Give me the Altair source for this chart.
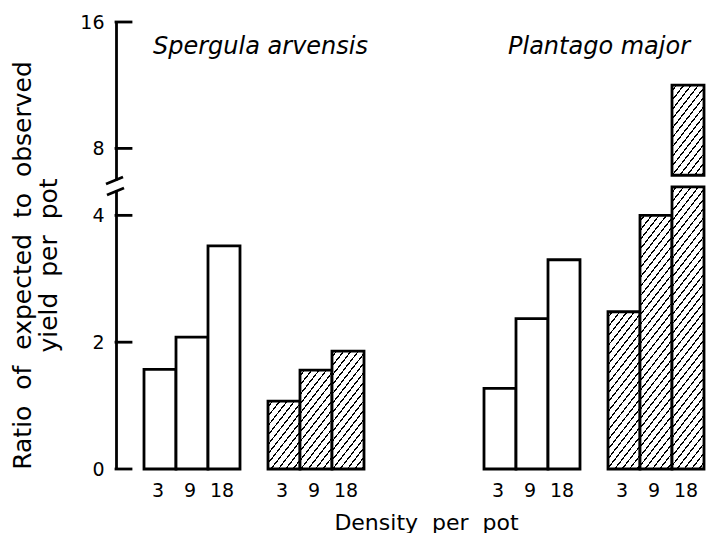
import math
import altair as alt
import pandas as pd

# ---------------- data ----------------
species = ["Spergula arvensis", "Plantago major"]
densities = ["3", "9", "18"]
treatments = ["open", "hatched"]
spergula_open = [1.57, 2.08, 3.52]
spergula_hatched = [1.07, 1.56, 1.86]
plantago_open = [1.27, 2.37, 3.30]
plantago_hatched = [2.48, 4.00, 12.0]
lower_ticks = [0, 2, 4]
upper_ticks = [8, 16]
NB = "\u00a0 "  # wide word gap as in the original typesetting
y_title = [NB.join(["Ratio", "of", "expected", "to", "observed"]),
           NB.join(["yield", "per", "pot"])]
x_title = NB.join(["Density", "per", "pot"])

# ---------------- layout / style ----------------
FONT = "DejaVu Sans"
W_S, W_P = 276, 248
H_UP, H_LO = 158, 279
UP_DOM = [6.0, 16.0]
LO_DOM = [0.0, 4.4]
CAP_LO = 4.45      # top of lower piece of a broken bar
BASE_UP = 6.3      # bottom of upper piece of a broken bar
PAD_IN = 28 / 124
STROKE = 2.8
STEP = 124
BAR_W = STEP * (1 - PAD_IN) / 3
PX_LO = H_LO / (LO_DOM[1] - LO_DOM[0])
PX_UP = H_UP / (UP_DOM[1] - UP_DOM[0])

table = {
    (species[0], "open"): spergula_open,
    (species[0], "hatched"): spergula_hatched,
    (species[1], "open"): plantago_open,
    (species[1], "hatched"): plantago_hatched,
}
rows = []
for sp in species:
    for tr in treatments:
        for d, v in zip(densities, table[(sp, tr)]):
            rows.append({"species": sp, "treat": tr, "density": d, "value": v})
df = pd.DataFrame(rows)


def hatch(w, h, angle=52, gap=5.8, lw=1.2):
    th = math.radians(angle)
    a = w * math.sin(th)
    b = h * math.cos(th)
    smax = a + b
    lam = smax / (a * a + b * b)
    stops = [{"offset": 0, "color": "white"}]
    s = gap * 0.5
    while s + lw < smax:
        t0 = round(s / smax, 5)
        t1 = round((s + lw) / smax, 5)
        stops += [
            {"offset": t0, "color": "white"},
            {"offset": t0, "color": "black"},
            {"offset": t1, "color": "black"},
            {"offset": t1, "color": "white"},
        ]
        s += gap
    stops.append({"offset": 1, "color": "white"})
    return {"gradient": "linear", "x1": 0, "y1": 0,
            "x2": round(lam * a, 5), "y2": round(lam * b, 5), "stops": stops}


def xscale(i):
    if i == 0:
        return alt.Scale(domain=treatments, paddingInner=PAD_IN, paddingOuter=PAD_IN)
    return alt.Scale(domain=treatments, paddingInner=PAD_IN, paddingOuter=PAD_IN / 2, align=1)


xoff = alt.XOffset("density:N", scale=alt.Scale(domain=densities, paddingInner=0, paddingOuter=0))
one = pd.DataFrame({"k": [0]})


def yaxis(vals, title=None):
    kw = dict(values=vals, ticks=False, tickSize=0, domainColor="black", domainWidth=STROKE,
              labelFont=FONT, labelFontSize=19, labelColor="black", labelPadding=12,
              grid=False, labelFlush=False, labelOverlap=False)
    if title is None:
        kw["title"] = None
    else:
        kw.update(title=title, titleFont=FONT, titleFontSize=25, titleFontWeight="normal",
                  titleColor="black", titleX=-94, titleY=75, titleAngle=270,
                  titleAlign="center", titleBaseline="middle", titleLineHeight=26)
    return alt.Axis(**kw)


def species_text(i, xpos):
    return alt.Chart(pd.DataFrame({"species": [species[i]]})).mark_text(
        align="left", baseline="alphabetic", font=FONT, fontSize=24,
        fontStyle="italic", color="black"
    ).encode(x=alt.value(xpos), y=alt.value(32), text="species:N")


X_AXIS = alt.Axis(labels=False, ticks=False, domain=False, grid=False, title=x_title,
                  titleFont=FONT, titleFontSize=22, titleFontWeight="normal",
                  titleColor="black", titleX=310, titleY=60, titleAlign="center",
                  titleBaseline="alphabetic")
Y_AXIS_LO = yaxis(lower_ticks, y_title)
Y_AXIS_UP = yaxis(upper_ticks)


def lower_panel(i):
    sp = species[i]
    d = df[df.species == sp]
    width = W_S if i == 0 else W_P
    ysc = alt.Scale(domain=LO_DOM)
    xax = X_AXIS if i == 0 else None
    yax = Y_AXIS_LO if i == 0 else None
    layers = []
    open_bars = alt.Chart(d[d.treat == "open"]).mark_bar(
        fill="white", stroke="black", strokeWidth=STROKE
    ).encode(
        x=alt.X("treat:N", scale=xscale(i), axis=xax),
        xOffset=xoff,
        y=alt.Y("value:Q", scale=ysc, axis=yax),
    )
    layers.append(open_bars)
    for _, r in d[d.treat == "hatched"].iterrows():
        hv = min(r.value, CAP_LO)
        grad = hatch(BAR_W, hv * PX_LO)
        layers.append(
            alt.Chart(pd.DataFrame([r.to_dict()])).transform_calculate(
                value=f"min(datum.value, {CAP_LO})"
            ).mark_bar(fill=grad, stroke="black", strokeWidth=STROKE).encode(
                x=alt.X("treat:N", scale=xscale(i), axis=xax),
                xOffset=xoff,
                y=alt.Y("value:Q", scale=ysc, axis=yax),
            )
        )
    labels = alt.Chart(d).mark_text(
        font=FONT, fontSize=19, color="black", baseline="middle", dx=-2
    ).encode(
        x=alt.X("treat:N", scale=xscale(i), axis=xax),
        xOffset=xoff,
        y=alt.value(H_LO + 22),
        text="density:N",
    )
    layers.append(labels)
    if i == 0:
        ticks = alt.Chart(pd.DataFrame({"value": lower_ticks})).mark_rule(
            color="black", strokeWidth=STROKE, strokeCap="square"
        ).encode(y=alt.Y("value:Q", scale=ysc, axis=yax), x=alt.value(0), x2=alt.value(15))
        slash = alt.Chart(one).mark_rule(color="black", strokeWidth=STROKE).encode(
            x=alt.value(-9), x2=alt.value(8), y=alt.value(5), y2=alt.value(-2))
        layers += [ticks, slash]
    return alt.layer(*layers).properties(width=width, height=H_LO)


def upper_panel(i):
    sp = species[i]
    d = df[(df.species == sp) & (df.value > LO_DOM[1])]
    width = W_S if i == 0 else W_P
    ysc = alt.Scale(domain=UP_DOM)
    layers = []
    if i == 0:
        ticks = alt.Chart(pd.DataFrame({"t": upper_ticks})).mark_rule(
            color="black", strokeWidth=STROKE, strokeCap="square"
        ).encode(y=alt.Y("t:Q", scale=ysc, axis=Y_AXIS_UP),
                 x=alt.value(0), x2=alt.value(15))
        slash = alt.Chart(one).mark_rule(color="black", strokeWidth=STROKE).encode(
            x=alt.value(-10), x2=alt.value(7), y=alt.value(H_UP + 4), y2=alt.value(H_UP - 3))
        layers += [ticks, slash, species_text(0, 37)]
    else:
        for _, r in d.iterrows():
            top = min(r.value, UP_DOM[1])
            grad = hatch(BAR_W, (top - BASE_UP) * PX_UP)
            layers.append(
                alt.Chart(pd.DataFrame([r.to_dict()])).transform_calculate(
                    ytop=f"min(datum.value, {UP_DOM[1]})"
                ).mark_bar(fill=grad, stroke="black", strokeWidth=STROKE).encode(
                    x=alt.X("treat:N", scale=xscale(i), axis=None),
                    xOffset=xoff,
                    y=alt.Y("ytop:Q", scale=ysc, axis=None),
                    y2=alt.Y2(datum=BASE_UP),
                )
            )
        layers.append(species_text(1, 52))
    return alt.layer(*layers).properties(width=width, height=H_UP)


chart = alt.concat(
    upper_panel(0), upper_panel(1), lower_panel(0), lower_panel(1),
    columns=2, spacing={"row": 10, "column": 64}, bounds="flush",
).properties(
    padding={"left": 1, "top": 5, "right": 0, "bottom": 0},
    background="white",
).configure_view(stroke=None).configure_axis(grid=False)

chart.save("out.html", embed_options={"renderer": "svg", "actions": False})
